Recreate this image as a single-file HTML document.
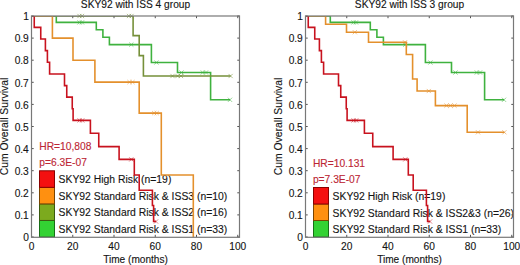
<!DOCTYPE html>
<html><head><meta charset="utf-8"><style>
html,body{margin:0;padding:0;background:#fff;width:520px;height:265px;overflow:hidden}
svg{display:block}
text{white-space:pre;stroke:#141414;stroke-width:0.12px}
.hr text{stroke:#bc2634}
</style></head><body>
<svg width="520" height="265" viewBox="0 0 520 265" font-family='"Liberation Sans", sans-serif' font-size="10.2" fill="#141414">
<defs><clipPath id="cl"><rect x="31.5" y="16" width="208" height="221"/></clipPath><clipPath id="cr"><rect x="305.5" y="16" width="208" height="221"/></clipPath></defs>
<rect width="520" height="265" fill="#fff"/>
<text x="28.80" y="241.20" text-anchor="end" font-size="10.2">0</text>
<text x="28.80" y="219.10" text-anchor="end" font-size="10.2">0.1</text>
<text x="28.80" y="197.00" text-anchor="end" font-size="10.2">0.2</text>
<text x="28.80" y="174.90" text-anchor="end" font-size="10.2">0.3</text>
<text x="28.80" y="152.80" text-anchor="end" font-size="10.2">0.4</text>
<text x="28.80" y="130.70" text-anchor="end" font-size="10.2">0.5</text>
<text x="28.80" y="108.60" text-anchor="end" font-size="10.2">0.6</text>
<text x="28.80" y="86.50" text-anchor="end" font-size="10.2">0.7</text>
<text x="28.80" y="64.40" text-anchor="end" font-size="10.2">0.8</text>
<text x="28.80" y="42.30" text-anchor="end" font-size="10.2">0.9</text>
<text x="28.80" y="20.20" text-anchor="end" font-size="10.2">1</text>
<text x="31.50" y="249.9" text-anchor="middle" font-size="10.2">0</text>
<text x="72.75" y="249.9" text-anchor="middle" font-size="10.2">20</text>
<text x="114.00" y="249.9" text-anchor="middle" font-size="10.2">40</text>
<text x="155.25" y="249.9" text-anchor="middle" font-size="10.2">60</text>
<text x="196.50" y="249.9" text-anchor="middle" font-size="10.2">80</text>
<text x="237.75" y="249.9" text-anchor="middle" font-size="10.2">100</text>
<text x="135.5" y="262.8" text-anchor="middle" font-size="10.1">Time (months)</text>
<text x="135.5" y="8.4" text-anchor="middle" font-size="10.2">SKY92 with ISS 4 group</text>
<text transform="translate(8.3,126.5) rotate(-90)" text-anchor="middle" font-size="10.4">Cum Overall Survival</text>
<g class="hr" fill="#bc2634" font-size="10.25"><text x="39.3" y="149.8">HR=10,808</text><text x="39.3" y="166.2">p=6.3E-07</text></g>
<rect x="39.50" y="220.45" width="15" height="16.55" fill="#33d233" stroke="#177017" stroke-width="1"/>
<rect x="39.50" y="203.90" width="15" height="16.55" fill="#7caa1e" stroke="#3a5a10" stroke-width="1"/>
<rect x="39.50" y="187.35" width="15" height="16.55" fill="#ff9010" stroke="#7a4400" stroke-width="1"/>
<rect x="39.50" y="170.80" width="15" height="16.55" fill="#f41010" stroke="#8a0000" stroke-width="1"/>
<text x="58.60" y="183.38" font-size="10.38">SKY92 High Risk (n=19)</text>
<text x="58.60" y="199.93" font-size="10.38">SKY92 Standard Risk &amp; ISS3 (n=10)</text>
<text x="58.60" y="216.48" font-size="10.38">SKY92 Standard Risk &amp; ISS2 (n=16)</text>
<text x="58.60" y="233.03" font-size="10.38">SKY92 Standard Risk &amp; ISS1 (n=33)</text>
<path d="M31.50,16.00 L56.30,16.00 L56.30,22.40 L96.30,22.40 L96.30,29.80 L102.90,29.80 L102.90,37.20 L109.40,37.20 L109.40,44.60 L151.40,44.60 L151.40,62.50 L177.50,62.50 L177.50,72.50 L210.60,72.50 L210.60,99.80 L230.00,99.80" stroke="#3fb23f" stroke-width="1.6" fill="none" stroke-linejoin="miter" clip-path="url(#cl)"/>
<path d="M77.40,20.30L81.60,24.50M77.40,24.50L81.60,20.30M79.90,20.30L84.10,24.50M79.90,24.50L84.10,20.30M129.20,42.50L133.40,46.70M129.20,46.70L133.40,42.50M154.30,60.40L158.50,64.60M154.30,64.60L158.50,60.40M179.40,70.40L183.60,74.60M179.40,74.60L183.60,70.40M200.70,70.40L204.90,74.60M200.70,74.60L204.90,70.40M203.90,70.40L208.10,74.60M203.90,74.60L208.10,70.40M227.90,97.70L232.10,101.90M227.90,101.90L232.10,97.70" stroke="#3fb23f" stroke-width="0.55" fill="none"/>
<path d="M31.50,16.00 L133.10,16.00 L133.10,35.60 L139.20,35.60 L139.20,55.60 L143.40,55.60 L143.40,76.00 L230.60,76.00" stroke="#76903a" stroke-width="1.6" fill="none" stroke-linejoin="miter" clip-path="url(#cl)"/>
<path d="M77.40,13.90L81.60,18.10M77.40,18.10L81.60,13.90M79.90,13.90L84.10,18.10M79.90,18.10L84.10,13.90M126.90,13.90L131.10,18.10M126.90,18.10L131.10,13.90M129.40,13.90L133.60,18.10M129.40,18.10L133.60,13.90M170.40,73.90L174.60,78.10M170.40,78.10L174.60,73.90M175.40,73.90L179.60,78.10M175.40,78.10L179.60,73.90M178.90,73.90L183.10,78.10M178.90,78.10L183.10,73.90M228.50,73.90L232.70,78.10M228.50,78.10L232.70,73.90" stroke="#76903a" stroke-width="0.55" fill="none"/>
<path d="M31.50,16.00 L52.40,16.00 L52.40,38.10 L73.00,38.10 L73.00,60.20 L94.90,60.20 L94.90,82.10 L139.20,82.10 L139.20,113.10 L161.30,113.10 L161.30,175.00 L193.30,175.00 L193.30,237.00" stroke="#e4902c" stroke-width="1.6" fill="none" stroke-linejoin="miter" clip-path="url(#cl)"/>
<path d="M127.40,80.00L131.60,84.20M127.40,84.20L131.60,80.00M130.40,80.00L134.60,84.20M130.40,84.20L134.60,80.00M152.10,111.00L156.30,115.20M152.10,115.20L156.30,111.00M154.60,111.00L158.80,115.20M154.60,115.20L158.80,111.00" stroke="#e4902c" stroke-width="0.55" fill="none"/>
<path d="M31.50,16.00 L34.25,16.00 L34.25,27.40 L40.75,27.40 L40.75,39.00 L45.40,39.00 L45.40,50.60 L47.40,50.60 L47.40,62.30 L49.60,62.30 L49.60,74.00 L64.50,74.00 L64.50,85.60 L66.75,85.60 L66.75,97.10 L72.25,97.10 L72.25,108.80 L73.10,108.80 L73.10,120.40 L90.40,120.40 L90.40,133.20 L98.75,133.20 L98.75,146.60 L119.10,146.60 L119.10,159.40 L134.30,159.40 L134.30,175.00 L139.20,175.00 L139.20,190.30 L152.40,190.30 L152.40,205.50 L153.60,205.50 L153.60,221.50 L156.00,221.50" stroke="#c8121e" stroke-width="1.6" fill="none" stroke-linejoin="miter" clip-path="url(#cl)"/>
<path d="M77.50,118.30L81.70,122.50M77.50,122.50L81.70,118.30M80.10,118.30L84.30,122.50M80.10,122.50L84.30,118.30M129.20,157.30L133.40,161.50M129.20,161.50L133.40,157.30M153.90,219.40L158.10,223.60M153.90,223.60L158.10,219.40" stroke="#c8121e" stroke-width="0.55" fill="none"/>
<text x="302.80" y="241.20" text-anchor="end" font-size="10.2">0</text>
<text x="302.80" y="219.10" text-anchor="end" font-size="10.2">0.1</text>
<text x="302.80" y="197.00" text-anchor="end" font-size="10.2">0.2</text>
<text x="302.80" y="174.90" text-anchor="end" font-size="10.2">0.3</text>
<text x="302.80" y="152.80" text-anchor="end" font-size="10.2">0.4</text>
<text x="302.80" y="130.70" text-anchor="end" font-size="10.2">0.5</text>
<text x="302.80" y="108.60" text-anchor="end" font-size="10.2">0.6</text>
<text x="302.80" y="86.50" text-anchor="end" font-size="10.2">0.7</text>
<text x="302.80" y="64.40" text-anchor="end" font-size="10.2">0.8</text>
<text x="302.80" y="42.30" text-anchor="end" font-size="10.2">0.9</text>
<text x="302.80" y="20.20" text-anchor="end" font-size="10.2">1</text>
<text x="305.50" y="249.9" text-anchor="middle" font-size="10.2">0</text>
<text x="346.75" y="249.9" text-anchor="middle" font-size="10.2">20</text>
<text x="388.00" y="249.9" text-anchor="middle" font-size="10.2">40</text>
<text x="429.25" y="249.9" text-anchor="middle" font-size="10.2">60</text>
<text x="470.50" y="249.9" text-anchor="middle" font-size="10.2">80</text>
<text x="511.75" y="249.9" text-anchor="middle" font-size="10.2">100</text>
<text x="409.5" y="262.8" text-anchor="middle" font-size="10.1">Time (months)</text>
<text x="409.5" y="8.4" text-anchor="middle" font-size="10.2">SKY92 with ISS 3 group</text>
<text transform="translate(282.3,126.5) rotate(-90)" text-anchor="middle" font-size="10.4">Cum Overall Survival</text>
<g class="hr" fill="#bc2634" font-size="10.25"><text x="312.9" y="166.6">HR=10.131</text><text x="312.9" y="182.8">p=7.3E-07</text></g>
<rect x="313.50" y="220.50" width="15" height="16.50" fill="#33d233" stroke="#177017" stroke-width="1"/>
<rect x="313.50" y="204.00" width="15" height="16.50" fill="#ff9010" stroke="#7a4400" stroke-width="1"/>
<rect x="313.50" y="187.50" width="15" height="16.50" fill="#f41010" stroke="#8a0000" stroke-width="1"/>
<text x="332.60" y="200.05" font-size="10.38">SKY92 High Risk (n=19)</text>
<text x="332.60" y="216.55" font-size="10.38">SKY92 Standard Risk &amp; ISS2&amp;3 (n=26)</text>
<text x="332.60" y="233.05" font-size="10.38">SKY92 Standard Risk &amp; ISS1 (n=33)</text>
<path d="M305.50,16.00 L330.30,16.00 L330.30,22.40 L370.30,22.40 L370.30,29.80 L376.90,29.80 L376.90,37.20 L383.40,37.20 L383.40,44.60 L425.40,44.60 L425.40,62.50 L451.50,62.50 L451.50,72.50 L484.60,72.50 L484.60,99.80 L504.00,99.80" stroke="#3fb23f" stroke-width="1.6" fill="none" stroke-linejoin="miter" clip-path="url(#cr)"/>
<path d="M351.40,20.30L355.60,24.50M351.40,24.50L355.60,20.30M353.90,20.30L358.10,24.50M353.90,24.50L358.10,20.30M403.20,42.50L407.40,46.70M403.20,46.70L407.40,42.50M428.30,60.40L432.50,64.60M428.30,64.60L432.50,60.40M453.40,70.40L457.60,74.60M453.40,74.60L457.60,70.40M474.70,70.40L478.90,74.60M474.70,74.60L478.90,70.40M477.90,70.40L482.10,74.60M477.90,74.60L482.10,70.40M501.90,97.70L506.10,101.90M501.90,101.90L506.10,97.70" stroke="#3fb23f" stroke-width="0.55" fill="none"/>
<path d="M305.50,16.00 L325.60,16.00 L325.60,24.20 L346.50,24.20 L346.50,32.20 L368.50,32.20 L368.50,42.30 L406.30,42.30 L406.30,54.50 L412.60,54.50 L412.60,79.00 L417.10,79.00 L417.10,91.00 L435.40,91.00 L435.40,105.60 L467.20,105.60 L467.20,132.30 L504.40,132.30" stroke="#e4902c" stroke-width="1.6" fill="none" stroke-linejoin="miter" clip-path="url(#cr)"/>
<path d="M352.70,30.10L356.90,34.30M352.70,34.30L356.90,30.10M402.90,40.20L407.10,44.40M402.90,44.40L407.10,40.20M426.70,88.90L430.90,93.10M426.70,93.10L430.90,88.90M444.40,103.50L448.60,107.70M444.40,107.70L448.60,103.50M448.40,103.50L452.60,107.70M448.40,107.70L452.60,103.50M452.40,103.50L456.60,107.70M452.40,107.70L456.60,103.50M475.90,130.20L480.10,134.40M475.90,134.40L480.10,130.20M502.30,130.20L506.50,134.40M502.30,134.40L506.50,130.20" stroke="#e4902c" stroke-width="0.55" fill="none"/>
<path d="M305.50,16.00 L308.25,16.00 L308.25,27.40 L314.75,27.40 L314.75,39.00 L319.40,39.00 L319.40,50.60 L321.40,50.60 L321.40,62.30 L323.60,62.30 L323.60,74.00 L338.50,74.00 L338.50,85.60 L340.75,85.60 L340.75,97.10 L346.25,97.10 L346.25,108.80 L347.10,108.80 L347.10,120.40 L364.40,120.40 L364.40,133.20 L372.75,133.20 L372.75,146.60 L393.10,146.60 L393.10,159.40 L408.30,159.40 L408.30,175.00 L413.20,175.00 L413.20,190.30 L426.40,190.30 L426.40,205.50 L427.60,205.50 L427.60,221.50 L430.00,221.50" stroke="#c8121e" stroke-width="1.6" fill="none" stroke-linejoin="miter" clip-path="url(#cr)"/>
<path d="M351.50,118.30L355.70,122.50M351.50,122.50L355.70,118.30M354.10,118.30L358.30,122.50M354.10,122.50L358.30,118.30M403.20,157.30L407.40,161.50M403.20,161.50L407.40,157.30M427.90,219.40L432.10,223.60M427.90,223.60L432.10,219.40" stroke="#c8121e" stroke-width="0.55" fill="none"/>
<path d="M31.5,237.00h2.2M239.5,237.00h-2.2M31.5,214.90h2.2M239.5,214.90h-2.2M31.5,192.80h2.2M239.5,192.80h-2.2M31.5,170.70h2.2M239.5,170.70h-2.2M31.5,148.60h2.2M239.5,148.60h-2.2M31.5,126.50h2.2M239.5,126.50h-2.2M31.5,104.40h2.2M239.5,104.40h-2.2M31.5,82.30h2.2M239.5,82.30h-2.2M31.5,60.20h2.2M239.5,60.20h-2.2M31.5,38.10h2.2M239.5,38.10h-2.2M31.5,16.00h2.2M239.5,16.00h-2.2M31.50,237v-2.2M31.50,16v2.2M72.75,237v-2.2M72.75,16v2.2M114.00,237v-2.2M114.00,16v2.2M155.25,237v-2.2M155.25,16v2.2M196.50,237v-2.2M196.50,16v2.2M237.75,237v-2.2M237.75,16v2.2" stroke="#505050" stroke-width="1" fill="none"/>
<rect x="31.5" y="16" width="208" height="221.3" fill="none" stroke="#787878" stroke-width="1.2"/>
<path d="M305.5,237.00h2.2M513.5,237.00h-2.2M305.5,214.90h2.2M513.5,214.90h-2.2M305.5,192.80h2.2M513.5,192.80h-2.2M305.5,170.70h2.2M513.5,170.70h-2.2M305.5,148.60h2.2M513.5,148.60h-2.2M305.5,126.50h2.2M513.5,126.50h-2.2M305.5,104.40h2.2M513.5,104.40h-2.2M305.5,82.30h2.2M513.5,82.30h-2.2M305.5,60.20h2.2M513.5,60.20h-2.2M305.5,38.10h2.2M513.5,38.10h-2.2M305.5,16.00h2.2M513.5,16.00h-2.2M305.50,237v-2.2M305.50,16v2.2M346.75,237v-2.2M346.75,16v2.2M388.00,237v-2.2M388.00,16v2.2M429.25,237v-2.2M429.25,16v2.2M470.50,237v-2.2M470.50,16v2.2M511.75,237v-2.2M511.75,16v2.2" stroke="#505050" stroke-width="1" fill="none"/>
<rect x="305.5" y="16" width="208" height="221.3" fill="none" stroke="#787878" stroke-width="1.2"/>
</svg>
</body></html>
